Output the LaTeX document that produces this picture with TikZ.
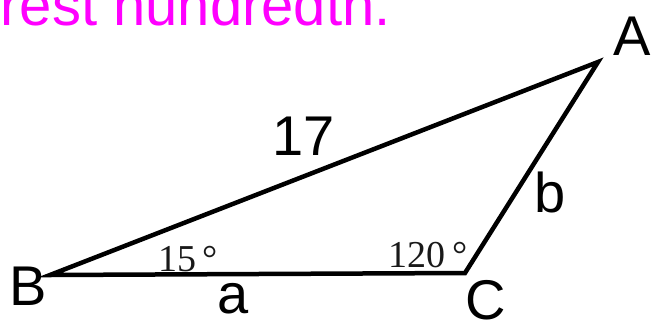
\documentclass[tikz,border=0pt]{standalone}
\usepackage{fontspec}
\setmainfont{Liberation Sans}
\newfontfamily\angfont{Liberation Serif}
\definecolor{headmag}{HTML}{FF00FF}
\tikzset{
  lbl/.style={inner sep=0pt, anchor=base, font=\fontsize{56}{60}\selectfont},
  anglbl/.style={inner sep=0pt, anchor=base, text=black!90, font=\angfont\fontsize{38}{42}\selectfont},
  head/.style={inner sep=0pt, anchor=base east, text=headmag, font=\fontsize{58}{62}\selectfont},
  side/.style={line width=4.5pt, line join=miter, miter limit=20}
}
\begin{document}
\begin{tikzpicture}[x=1pt,y=-1pt]
\useasboundingbox (0,0) rectangle (653,322);
\coordinate (B) at (50,275);
\coordinate (C) at (465,273);
\coordinate (A) at (598,62);
\draw[side] (B) -- (C) -- (A) -- cycle;
\node[head] (title) at (391,25) {rest hundredth.};
\node[lbl] (lA) at (632,55) {A};
\node[lbl] (lB) at (28,305) {B};
\node[lbl] (lC) at (486,319) {C};
\node[lbl] (la) at (233,313) {a};
\node[lbl] (l17) at (304,155) {17};
\node[lbl] (lb) at (550,212) {b};
\node[anglbl] (ang15) at (188,271) {15\,°};
\node[anglbl] (ang120) at (428,267) {120\,°};
\end{tikzpicture}
\end{document}
